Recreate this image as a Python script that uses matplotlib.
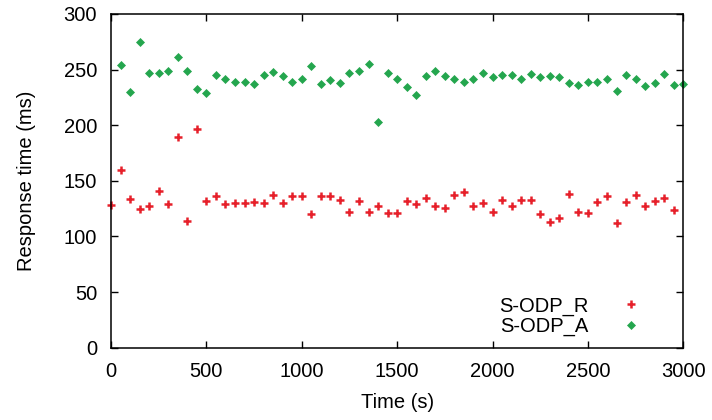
import numpy as np
import matplotlib.pyplot as plt

plt.rcParams['font.family'] = ['Liberation Sans', 'DejaVu Sans']

# S-ODP_R: samples every 50 s from 0 to 2950
t_r = np.arange(0, 3000, 50)
resp_r = [128, 160, 134, 125, 127, 141, 129, 189, 114, 197,
          132, 136, 129, 130, 130, 131, 130, 137, 130, 136,
          136, 120, 136, 136, 133, 122, 132, 122, 127, 121,
          121, 132, 129, 135, 127, 126, 137, 140, 127, 130,
          122, 133, 127, 133, 133, 120, 113, 117, 138, 122,
          121, 131, 136, 112, 131, 137, 127, 132, 135, 124]

# S-ODP_A: samples every 50 s from 50 to 3000
t_a = np.arange(50, 3001, 50)
resp_a = [254, 230, 275, 247, 247, 249, 261, 249, 233, 229,
          245, 242, 239, 239, 237, 245, 248, 244, 239, 242,
          253, 237, 241, 238, 247, 249, 255, 203, 247, 242,
          234, 227, 244, 249, 244, 242, 239, 242, 247, 243,
          245, 245, 242, 246, 243, 244, 243, 238, 236, 239,
          239, 242, 231, 245, 242, 235, 238, 246, 236, 237]

fs = 14.5
fig = plt.figure(figsize=(7.12, 4.2), dpi=100)
ax = fig.add_axes([111/712, 1 - 347.7/420, (683.3-111)/712, (347.7-14)/420])

ax.plot(t_r, resp_r, linestyle='none', marker='+', markersize=6,
        markeredgewidth=1.8, color='#e6202a', label='S-ODP_R', clip_on=False)
ax.plot(t_a, resp_a, linestyle='none', marker='D', markersize=4.3,
        markeredgewidth=0.5, color='#24a64e', label='S-ODP_A', clip_on=False)

ax.set_xlim(0, 3000)
ax.set_ylim(0, 300)
ax.set_xticks(np.arange(0, 3001, 500))
ax.set_yticks(np.arange(0, 301, 50))
ax.tick_params(direction='in', top=True, right=True, labelsize=fs, length=5,
               width=1)
ax.tick_params(axis='x', pad=10.5)
ax.tick_params(axis='y', pad=10)
for s in ax.spines.values():
    s.set_linewidth(1.1)

ax.set_xlabel('Time (s)', fontsize=fs, labelpad=8.5)
ax.set_ylabel('Response time (ms)', fontsize=fs, labelpad=20)

leg = ax.legend(loc='lower right', frameon=False, fontsize=fs, markerfirst=False,
                handlelength=1.0, handletextpad=1.6, labelspacing=0.05,
                borderpad=0, bbox_to_anchor=((641 - 111) / 572.3, 0.035),
                borderaxespad=0)

fig.savefig('out.png', dpi=100)
